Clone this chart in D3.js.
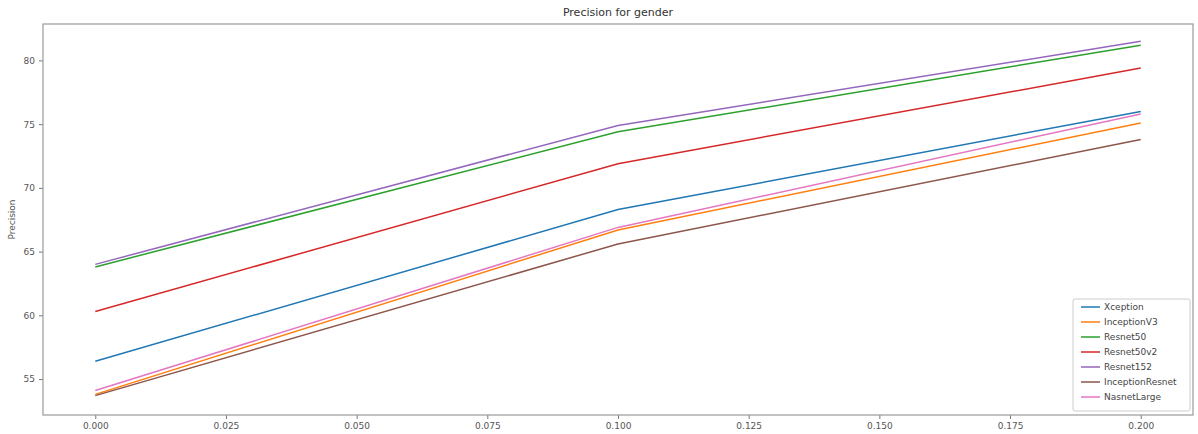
<!DOCTYPE html>
<html>
<head>
<meta charset="utf-8">
<script src="https://d3js.org/d3.v7.min.js"></script>
<style>
  body { margin: 0; background: #fff; }
  svg text { font-family: "DejaVu Sans", sans-serif; fill: #444; }
</style>
</head>
<body>
<svg id="chart" width="1198" height="434"></svg>
<script>
// data
var xValues = [0.0, 0.1, 0.2];
var seriesNames = ['Xception', 'InceptionV3', 'Resnet50', 'Resnet50v2', 'Resnet152', 'InceptionResnet', 'NasnetLarge'];
var xception = [56.4, 68.3, 76.0];
var inceptionV3 = [53.8, 66.7, 75.1];
var resnet50 = [63.8, 74.4, 81.2];
var resnet50v2 = [60.3, 71.9, 79.4];
var resnet152 = [64.0, 74.9, 81.5];
var inceptionResnet = [53.7, 65.6, 73.8];
var nasnetLarge = [54.1, 66.9, 75.8];
var xTicks = [0, 0.025, 0.05, 0.075, 0.1, 0.125, 0.15, 0.175, 0.2];
var yTicks = [55, 60, 65, 70, 75, 80];

var seriesValues = [xception, inceptionV3, resnet50, resnet50v2, resnet152, inceptionResnet, nasnetLarge];
var colors = ['#1f77b4', '#ff7f0e', '#2ca02c', '#d62728', '#9467bd', '#8c564b', '#e377c2'];

var MARGINS = { top: 24, right: 5, bottom: 19, left: 43 };
var WIDTH = 1198, HEIGHT = 434;

var vis = d3.select('#chart');

var xRange = d3.scaleLinear()
  .domain([-0.01, 0.21])
  .range([MARGINS.left, WIDTH - MARGINS.right]);

var yRange = d3.scaleLinear()
  .domain([52.18, 82.86])
  .range([HEIGHT - MARGINS.bottom, MARGINS.top]);

// axes
var xAxis = d3.axisBottom(xRange)
  .tickValues(xTicks)
  .tickFormat(d3.format('.3f'))
  .tickSize(4)
  .tickPadding(4);

var yAxis = d3.axisLeft(yRange)
  .tickValues(yTicks)
  .tickSize(4)
  .tickPadding(4);

var gx = vis.append('g')
  .attr('transform', 'translate(0,' + (HEIGHT - MARGINS.bottom) + ')')
  .call(xAxis);
var gy = vis.append('g')
  .attr('transform', 'translate(' + MARGINS.left + ',0)')
  .call(yAxis);

[gx, gy].forEach(function (g) {
  g.select('.domain').remove();
  g.selectAll('line').attr('stroke', '#777');
  g.selectAll('text').style('font-size', '9px').style('fill', '#555');
});

// frame
vis.append('rect')
  .attr('x', MARGINS.left)
  .attr('y', MARGINS.top)
  .attr('width', WIDTH - MARGINS.left - MARGINS.right)
  .attr('height', HEIGHT - MARGINS.top - MARGINS.bottom)
  .attr('fill', 'none')
  .attr('stroke', '#999')
  .attr('stroke-width', 1.2);

// lines
var lineGen = d3.line()
  .x(function (d, i) { return xRange(xValues[i]); })
  .y(function (d) { return yRange(d); });

seriesValues.forEach(function (vals, i) {
  vis.append('path')
    .attr('d', lineGen(vals))
    .attr('stroke', colors[i])
    .attr('stroke-width', 1.5)
    .attr('fill', 'none');
});

// title and y label
vis.append('text')
  .attr('x', (MARGINS.left + WIDTH - MARGINS.right) / 2)
  .attr('y', 16)
  .attr('text-anchor', 'middle')
  .style('font-size', '11px')
  .style('fill', '#333')
  .text('Precision for gender');

vis.append('text')
  .attr('transform', 'translate(15,' + ((MARGINS.top + HEIGHT - MARGINS.bottom) / 2) + ') rotate(-90)')
  .attr('text-anchor', 'middle')
  .style('font-size', '9px')
  .style('fill', '#555')
  .text('Precision');

// legend
var legX = 1073, legY = 299, legW = 117, rowH = 15;
var legend = vis.append('g');
legend.append('rect')
  .attr('x', legX)
  .attr('y', legY)
  .attr('width', legW)
  .attr('height', rowH * seriesNames.length + 7)
  .attr('rx', 2)
  .attr('fill', '#fff')
  .attr('fill-opacity', 0.85)
  .attr('stroke', '#ccc');

seriesNames.forEach(function (name, i) {
  var cy = legY + 8 + i * rowH;
  legend.append('line')
    .attr('x1', legX + 8).attr('x2', legX + 27)
    .attr('y1', cy).attr('y2', cy)
    .attr('stroke', colors[i])
    .attr('stroke-width', 1.5);
  legend.append('text')
    .attr('x', legX + 31)
    .attr('y', cy + 3)
    .style('font-size', '9px')
    .style('fill', '#444')
    .text(name);
});
</script>
</body>
</html>
